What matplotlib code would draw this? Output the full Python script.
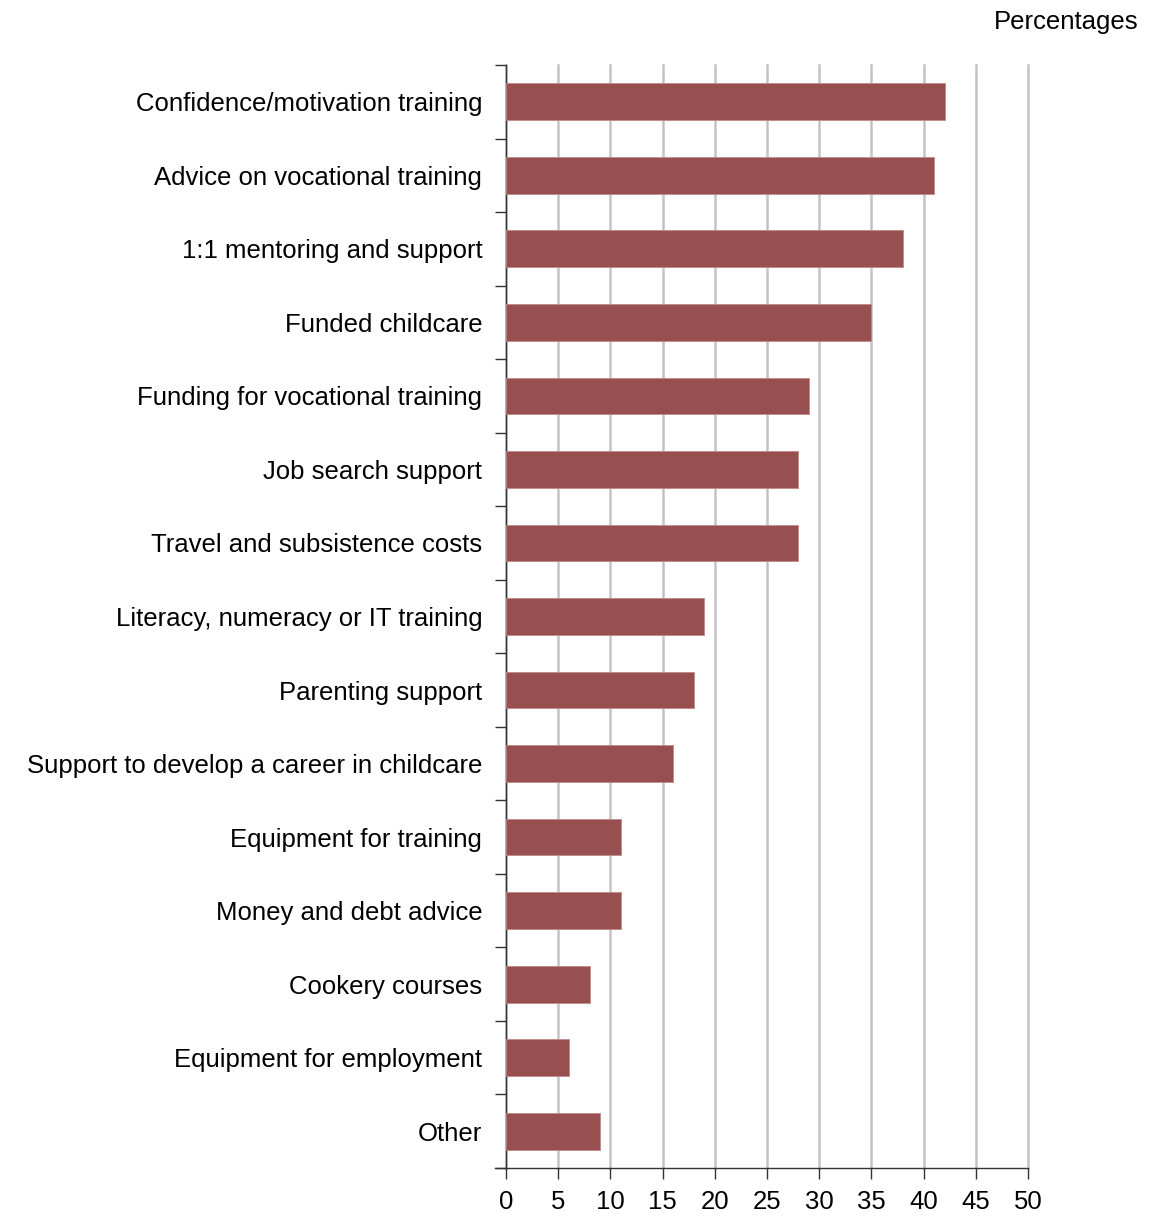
import numpy as np
import matplotlib.pyplot as plt
from matplotlib.ticker import FixedLocator

plt.rcParams['font.family'] = ['Liberation Sans', 'DejaVu Sans']

# Help received, percentages
categories = [
    "Confidence/motivation training",
    "Advice on vocational training",
    "1:1 mentoring and support",
    "Funded childcare",
    "Funding for vocational training",
    "Job search support",
    "Travel and subsistence costs",
    "Literacy, numeracy or IT training",
    "Parenting support",
    "Support to develop a career in childcare",
    "Equipment for training",
    "Money and debt advice",
    "Cookery courses",
    "Equipment for employment",
    "Other",
]
values = [42, 41, 38, 35, 29, 28, 28, 19, 18, 16, 11, 11, 8, 6, 9]
xticks = list(range(0, 55, 5))

BAR_COLOR = '#974f4f'
GRID_COLOR = '#c4c4c4'
FS = 18.5

fig = plt.figure(figsize=(11.51, 12.16), dpi=100)
ax = fig.add_axes([0.4396, 0.0395, 0.4536, 0.907])

y = np.arange(len(categories))
ax.barh(y, values, height=0.5, color=BAR_COLOR, edgecolor='#c08a8a',
        linewidth=0.6, zorder=3)

ax.set_xlim(0, 50)
ax.set_ylim(len(categories) - 0.5, -0.5)
ax.set_xticks(xticks)
ax.set_xticklabels([str(t) for t in xticks], fontsize=FS)
ax.set_yticks(y)
ax.set_yticklabels(categories, fontsize=FS)
ax.yaxis.set_minor_locator(FixedLocator(np.arange(-0.5, len(categories), 1.0)))

ax.tick_params(axis='y', which='major', length=0, pad=17)
ax.tick_params(axis='y', which='minor', length=8, width=1.0, direction='out',
               color='#333333')
ax.tick_params(axis='x', which='major', length=8, width=1.0, direction='out',
               pad=8, color='#333333')

ax.grid(axis='x', color=GRID_COLOR, linewidth=1.8, zorder=0)
ax.set_axisbelow(True)
for gl in ax.xaxis.get_gridlines():
    gl.set_clip_on(False)

for side in ['top', 'right']:
    ax.spines[side].set_visible(False)
ax.spines['left'].set_color('#333333')
ax.spines['bottom'].set_color('#333333')
ax.spines['left'].set_linewidth(1.0)
ax.spines['bottom'].set_linewidth(1.0)

# small overhang of the base line to the left of zero
ax.plot([-0.021, 0], [0, 0], transform=ax.transAxes, color='#333333',
        linewidth=1.0, clip_on=False)

fig.text(0.989, 0.982, "Percentages", ha='right', va='center', fontsize=FS)

fig.savefig('out.png', dpi=100)
